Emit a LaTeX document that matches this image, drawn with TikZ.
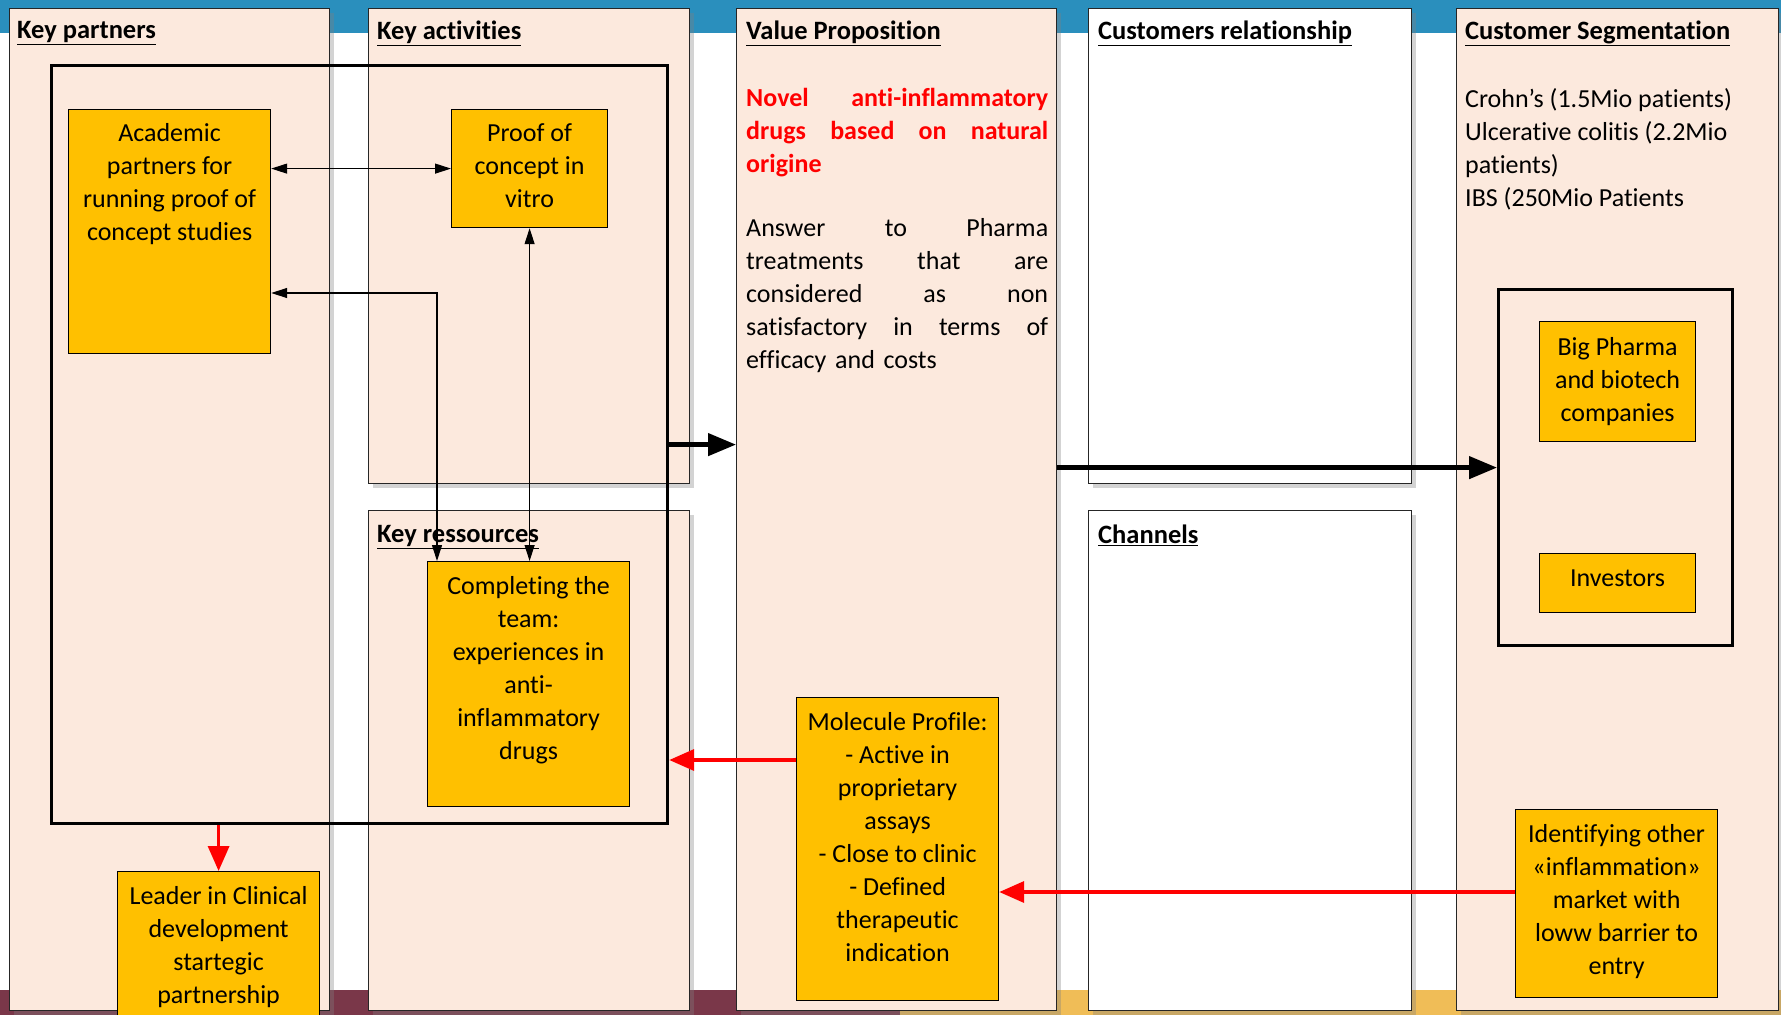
\documentclass[tikz,border=0pt]{standalone}
\usepackage{fontspec}
\setmainfont{Carlito}[Ligatures=NoCommon]
\usetikzlibrary{shadows,arrows.meta}

\definecolor{bandblue}{HTML}{2A8FBD}
\definecolor{bandmaroon}{HTML}{7A3749}
\definecolor{bandgold}{HTML}{F0BD57}
\definecolor{panelfill}{HTML}{FCE9DD}
\definecolor{boxgold}{HTML}{FFC000}
\definecolor{alertred}{HTML}{FF0000}

\begin{document}
\begin{tikzpicture}[x=1pt,y=-1pt,
  panel/.style={draw=black!85, line width=1.3pt, fill=panelfill, anchor=north west, inner sep=0pt,
    drop shadow={shadow xshift=4pt, shadow yshift=-4pt, opacity=0.35}},
  wpanel/.style={panel, fill=white},
  gbox/.style={draw=black, line width=1.2pt, fill=boxgold, anchor=north west, inner sep=0pt},
  frame/.style={draw=black, line width=3.2pt, anchor=north west, inner sep=0pt},
  body/.style={font=\fontsize{26}{33}\selectfont, inner sep=0pt},
  ctext/.style={body, align=center, anchor=north},
  ltext/.style={body, align=left, anchor=north west},
  ttl/.style={inner sep=0pt, font=\fontsize{26.5}{33}\selectfont\bfseries, anchor=north west},
  thinarr/.style={line width=1.1pt, {Triangle[length=16pt,width=10pt]}-{Triangle[length=16pt,width=10pt]}},
  thickarr/.style={line width=4.5pt, -{Triangle[length=28pt,width=22pt]}},
  redarr/.style={draw=alertred, line width=3.5pt, -{Triangle[length=25pt,width=21pt]}, alertred},
]
\useasboundingbox (0,0) rectangle (1781,1015);

% background bands
\fill[bandblue] (0,0) rectangle (1781,33);
\fill[bandmaroon] (0,990) rectangle (900,1015);
\fill[bandgold] (900,990) rectangle (1781,1015);

% canvas panels
\node[panel, minimum width=320pt, minimum height=1002pt] (kp) at (9,8) {};
\node[panel, minimum width=321pt, minimum height=475pt] (ka) at (368,8) {};
\node[panel, minimum width=321pt, minimum height=500pt] (kr) at (368,510) {};
\node[panel, minimum width=320pt, minimum height=1002pt] (vp) at (736,8) {};
\node[wpanel, minimum width=323pt, minimum height=475pt] (cr) at (1088,8) {};
\node[wpanel, minimum width=323pt, minimum height=500pt] (ch) at (1088,510) {};
\node[panel, minimum width=322pt, minimum height=1002pt] (cs) at (1456,8) {};

% panel titles
\node[ttl] (kpT) at ([xshift=8pt,yshift=-13pt]kp.north west) {\underline{Key partners}};
\node[ttl] (kaT) at ([xshift=9pt,yshift=-13pt]ka.north west) {\underline{Key activities}};
\node[ttl] (krT) at ([xshift=9pt,yshift=-15pt]kr.north west) {\underline{Key ressources}};
\node[ttl] (vpT) at ([xshift=10pt,yshift=-13pt]vp.north west) {\underline{Value Proposition}};
\node[ttl] (crT) at ([xshift=10pt,yshift=-13pt]cr.north west) {\underline{Customers relationship}};
\node[ttl] (chT) at ([xshift=10pt,yshift=-15pt]ch.north west) {\underline{Channels}};
\node[ttl] (csT) at ([xshift=9pt,yshift=-13pt]cs.north west) {\underline{Customer Segmentation}};

% value proposition text
\node[ltext, text width=302pt, text=alertred, font=\fontsize{26}{33}\selectfont\bfseries] (vpRed)
  at ([xshift=10pt,yshift=-80pt]vp.north west)
  {\makebox[302pt][s]{Novel\hfill anti-inflammatory}\\
   \makebox[302pt][s]{drugs\hfill based\hfill on\hfill natural}\\
   origine};
\node[ltext, text width=302pt] (vpTxt) at ([xshift=10pt,yshift=-210pt]vp.north west)
  {\makebox[302pt][s]{Answer\hfill to\hfill Pharma}\\
   \makebox[302pt][s]{treatments\hfill that\hfill are}\\
   \makebox[302pt][s]{considered\hfill as\hfill non}\\
   \makebox[302pt][s]{satisfactory\hfill in\hfill terms\hfill of}\\
   efficacy and costs};

% customer segmentation text
\node[ltext] (csTxt) at ([xshift=9pt,yshift=-80pt]cs.north west)
  {Crohn’s (1.5Mio patients)\\Ulcerative colitis (2.2Mio\\patients)\\IBS (250Mio Patients};

% grouping frames
\node[frame, minimum width=616pt, minimum height=758pt] (big) at (50,64) {};
\node[frame, minimum width=234pt, minimum height=356pt] (seg) at (1497,288) {};

% content boxes
\node[gbox, minimum width=202pt, minimum height=244pt] (acad) at (68,109) {};
\node[gbox, minimum width=156pt, minimum height=118pt] (proof) at (451,109) {};
\node[gbox, minimum width=202pt, minimum height=245pt] (comp) at (427,561) {};
\node[gbox, minimum width=202pt, minimum height=170pt] (leader) at (117,871) {};
\node[gbox, minimum width=202pt, minimum height=303pt] (mol) at (796,697) {};
\node[gbox, minimum width=156pt, minimum height=120pt] (pharma) at (1539,321) {};
\node[gbox, minimum width=156pt, minimum height=59pt] (inv) at (1539,553) {};
\node[gbox, minimum width=202pt, minimum height=188pt] (ident) at (1515,809) {};

\node[ctext] (acadT) at ([yshift=-14pt]acad.north) {Academic\\partners for\\running proof of\\concept studies};
\node[ctext] (proofT) at ([yshift=-14pt]proof.north) {Proof of\\concept in\\vitro};
\node[ctext] (compT) at ([yshift=-15pt]comp.north) {Completing the\\team:\\experiences in\\anti-\\inflammatory\\drugs};
\node[ctext] (leaderT) at ([yshift=-15pt]leader.north) {Leader in Clinical\\development\\startegic\\partnership};
\node[ctext] (molT) at ([yshift=-15pt]mol.north) {Molecule Profile:\\- Active in\\proprietary\\assays\\- Close to clinic\\- Defined\\therapeutic\\indication};
\node[ctext] (pharmaT) at ([yshift=-16pt]pharma.north) {Big Pharma\\and biotech\\companies};
\node[ctext] (invT) at ([yshift=-17pt]inv.north) {Investors};
\node[ctext] (identT) at ([yshift=-15pt]ident.north) {Identifying other\\«inflammation»\\market with\\loww barrier to\\entry};

% connectors
\coordinate (j1) at (437,293);
\coordinate (r1) at (0,760);
\coordinate (r2) at (0,892);
\draw[thinarr] (acad.east |- proof.west) -- (proof.west);
\draw[thinarr] (acad.east |- j1) -| (comp.north -| j1);
\draw[thinarr] (proof.south) -- (proof.south |- comp.north);
\draw[thickarr] (big.east) -- (big.east -| vp.west);
\draw[thickarr] (seg.west -| vp.east) -- (seg.west);
\draw[redarr] (mol.west |- r1) -- (big.east |- r1);
\draw[redarr] (big.south -| leader.north) -- (leader.north);
\draw[redarr] (ident.west |- r2) -- (mol.east |- r2);
\end{tikzpicture}
\end{document}
